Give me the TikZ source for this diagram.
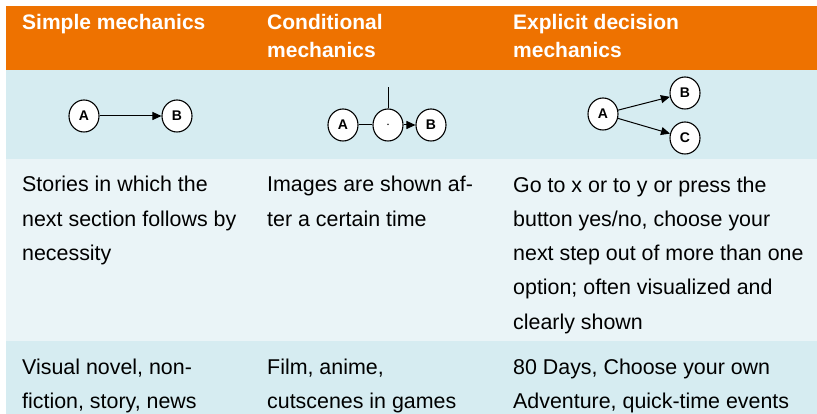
\documentclass[tikz,border=0pt]{standalone}
\usepackage{fontspec}
\setmainfont{Liberation Sans}
\usetikzlibrary{arrows.meta,shapes.geometric}
\definecolor{hdrorange}{RGB}{238,114,0}
\definecolor{rowblue}{RGB}{214,236,241}
\definecolor{rowpale}{RGB}{234,244,247}
\begin{document}
\begin{tikzpicture}[
			x=1pt,y=-1pt,
			hdr/.style={anchor=base west,inner sep=0pt,align=left,text=white,
				font=\fontsize{21}{28}\selectfont\bfseries},
			cell/.style={anchor=base west,inner sep=0pt,align=left,
				font=\fontsize{21.4}{34.3}\selectfont},
			state/.style={draw,ellipse,fill=white,line width=1.1pt,
				minimum width=30pt,minimum height=32pt,inner sep=0pt,
				font=\fontsize{14}{14}\selectfont\bfseries},
			go/.style={-{Triangle[length=9pt,width=8pt]},line width=1pt}
			]
			\useasboundingbox (0,0) rectangle (817,414);
			% rows
			\fill[hdrorange] (6,6) rectangle (817,70);
			\fill[rowblue] (6,70) rectangle (817,159);
			\fill[rowpale] (6,159) rectangle (817,341);
			\fill[rowblue] (6,341) rectangle (817,414);
			% header (base = baseline of the last line)
			\node[hdr] (h1) at (22,30) {Simple mechanics};
			\node[hdr] (h2) at (267,58) {Conditional\\mechanics};
			\node[hdr] (h3) at (513,58) {Explicit decision\\mechanics};
			% simple
			\node[state] (sa) at (84,116) {A};
			\node[state] (sb) at (177,116) {B};
			\draw[go] (sa) -- (sb);
			% conditional
			\node[state] (ca) at (343,125) {A};
			\node[state] (cm) at (388,125) {$\cdot$};
			\node[state] (cb) at (431,125) {B};
			\coordinate (ct) at (388,87);
			\draw[line width=1pt] (ca) -- (cm);
			\draw[line width=1pt] (cm.north) -- (ct);
			\draw[go] (cm) -- (cb);
			% explicit decision
			\node[state] (ea) at (603,114) {A};
			\node[state] (eb) at (685,93) {B};
			\node[state] (ec) at (685,138) {C};
			\draw[go] (ea) -- (eb);
			\draw[go] (ea) -- (ec);
			% descriptions
			\node[cell] (d1) at (22,260.6) {Stories in which the\\next section follows by\\necessity};
			\node[cell] (d2) at (267,226.3) {Images are shown af-\\ter a certain time};
			\node[cell] (d3) at (513,329.2) {Go to x or to y or press the\\button yes/no, choose your\\next step out of more than one\\option; often visualized and\\clearly shown};
			% examples
			\node[cell] (e1) at (22,408.3) {Visual novel, non-\\fiction, story, news};
			\node[cell] (e2) at (267,408.3) {Film, anime,\\cutscenes in games};
			\node[cell] (e3) at (513,408.3) {80 Days, Choose your own\\Adventure, quick-time events};
		\end{tikzpicture}
\end{document}
